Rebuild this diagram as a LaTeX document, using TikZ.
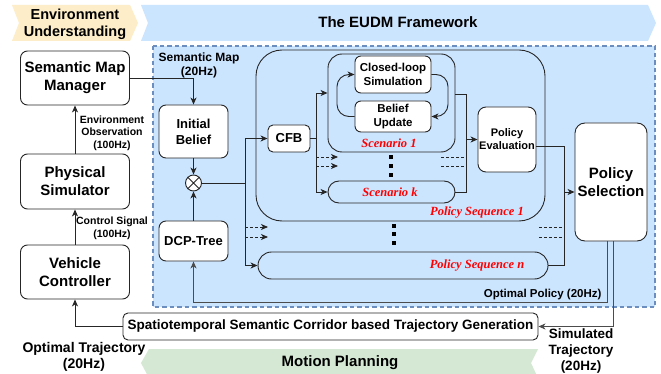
\documentclass[tikz,border=0pt]{standalone}
\usepackage{fontspec}
\setmainfont{Liberation Sans}
\newfontfamily\serifit{Liberation Serif}
\usetikzlibrary{arrows.meta}
\definecolor{bluefill}{HTML}{CCE5FF}
\definecolor{bluedash}{HTML}{6C8EBF}
\definecolor{yelfill}{HTML}{FDEDC8}
\definecolor{grnfill}{HTML}{D5E8D4}
\definecolor{lblred}{HTML}{FF0000}
\tikzset{
  box/.style={draw=black!85, fill=white, line width=0.9pt, rounded corners=7pt, align=center, inner sep=0pt, font=\bfseries\fontsize{15}{18}\selectfont},
  midbox/.style={box, font=\bfseries\fontsize{13}{16}\selectfont},
  smallbox/.style={box, rounded corners=6pt, font=\bfseries\fontsize{11.5}{13.5}\selectfont},
  seqbox/.style={draw=black!85, line width=0.9pt, inner sep=0pt},
  redlbl/.style={text=lblred, font=\serifit\bfseries\itshape\fontsize{12.5}{14}\selectfont},
  lbl/.style={align=center, font=\bfseries\fontsize{10.5}{12.5}\selectfont},
  ln/.style={draw=black!85, line width=0.9pt},
  arr/.style={ln, -{Stealth[length=7pt,width=6pt,inset=2pt]}},
  darr/.style={arr, dashed, dash pattern=on 3pt off 2pt},
  dln/.style={ln, dashed, dash pattern=on 3pt off 2pt},
  dotsq/.style={fill=black, minimum size=3.6pt, inner sep=0pt},
}
\begin{document}
\begin{tikzpicture}[x=1pt,y=-1pt]
\clip (0,0) rectangle (661,374);
\fill[white] (0,0) rectangle (661,374);

% banners
\fill[yelfill] (12,5) -- (130,5) -- (138,23) -- (130,41) -- (12,41) -- (19,23) -- cycle;
\node[align=center, font=\bfseries\fontsize{14.5}{17}\selectfont] (envu) at (75,24) {Environment\\Understanding};
\fill[bluefill] (141,5) -- (648,5) -- (656,23) -- (648,41) -- (141,41) -- (148,23) -- cycle;
\node[font=\bfseries\fontsize{15}{18}\selectfont] (eudm) at (398,22) {The EUDM Framework};
\fill[grnfill] (141,363) -- (149,349) -- (538,349) -- (531,363) -- (538,378) -- (149,378) -- cycle;
\node[font=\bfseries\fontsize{15}{18}\selectfont] (mp) at (340,363) {Motion Planning};

% dashed region
\filldraw[fill=bluefill, draw=bluedash, line width=1.3pt, dash pattern=on 4.5pt off 3pt] (153,46) rectangle (655,307);

% left column
\node[box, minimum width=109pt, minimum height=54pt] (smm) at (75,78) {Semantic Map\\Manager};
\node[box, minimum width=109pt, minimum height=55pt] (psim) at (75,181.5) {Physical\\Simulator};
\node[box, minimum width=109pt, minimum height=54pt] (vc) at (75,272) {Vehicle\\Controller};

% EUDM internals
\node[midbox, minimum width=69pt, minimum height=53pt] (ib) at (193.5,131.5) {Initial\\Belief};
\node[draw=black!85, fill=white, line width=0.9pt, circle, minimum size=16pt, inner sep=0pt] (ot) at (193.5,183) {};
\draw[ln] (ot.45) -- (ot.225) (ot.135) -- (ot.315);
\node[midbox, minimum width=69pt, minimum height=40pt] (dcp) at (193.5,241) {DCP-Tree};

\node[seqbox, rounded corners=26pt, minimum width=289pt, minimum height=171pt] (seq1) at (400.5,135.5) {};
\node[redlbl] (seq1l) at (477,213) {Policy Sequence 1};
\node[midbox, rounded corners=5pt, minimum width=42pt, minimum height=27pt] (cfb) at (289,138.5) {CFB};
\node[seqbox, rounded corners=14pt, minimum width=127pt, minimum height=98pt] (sc1) at (391.5,103) {};
\node[redlbl] (sc1l) at (389,143) {Scenario 1};
\node[smallbox, minimum width=76pt, minimum height=37pt] (cls) at (393,74.5) {Closed-loop\\Simulation};
\node[smallbox, minimum width=76pt, minimum height=31pt] (bu) at (393,116.5) {Belief\\Update};
\node[seqbox, rounded corners=11pt, minimum width=127pt, minimum height=22pt] (sck) at (391.5,192) {};
\node[redlbl] (sckl) at (390,192) {Scenario k};
\node[smallbox, rounded corners=8pt, minimum width=58pt, minimum height=65pt, font=\bfseries\fontsize{11}{13}\selectfont] (pe) at (507,139.5) {Policy\\Evaluation};
\node[seqbox, rounded corners=13.5pt, minimum width=290pt, minimum height=27pt] (seqn) at (403,265.5) {};
\node[redlbl] (seqnl) at (477,265.5) {Policy Sequence n};
\node[box, rounded corners=10pt, minimum width=72pt, minimum height=118pt] (psel) at (611,182) {Policy\\Selection};

\node[box, rounded corners=5pt, minimum width=415pt, minimum height=27pt, font=\bfseries\fontsize{13.5}{16}\selectfont] (sts) at (330.5,326.5) {Spatiotemporal Semantic Corridor based Trajectory Generation};

% dots
\foreach \yy in {157,166,175} \node[dotsq] at (391,\yy) {};
\foreach \yy in {226,234,243} \node[dotsq] at (394,\yy) {};

% left column connectors
\draw[arr] (psim.north) -- (smm.south);
\node[lbl] (eol) at (112,133) {Environment\\Observation\\(100Hz)};
\draw[arr] (vc.north) -- (psim.south);
\node[lbl] (csl) at (112,228.5) {Control Signal\\(100Hz)};
\draw[arr] (smm.east) -| (ib.north);
\node[align=center, font=\bfseries\fontsize{12}{14}\selectfont] (sml) at (199,65) {Semantic Map\\(20Hz)};

% belief combination
\draw[arr] (ib.south) -- (ot.north);
\draw[arr] (dcp.north) -- (ot.south);
\coordinate (b1) at (245,183);
\draw[ln] (ot.east) -- (b1);
\draw[arr] (b1) |- (cfb.west);
\draw[arr] (b1) |- (seqn.west);
\coordinate (d1a) at (245,227); \coordinate (d1b) at (268,227);
\coordinate (d2a) at (245,237); \coordinate (d2b) at (268,237);
\draw[darr] (d1a) -- (d1b);
\draw[darr] (d2a) -- (d2b);

% CFB to scenarios
\coordinate (b2) at (316,138.5);
\draw[ln] (cfb.east) -- (b2);
\draw[arr] (b2) |- ([yshift=10pt]sc1.west);
\draw[arr] (b2) |- (sck.west);
\coordinate (d3a) at (316,157); \coordinate (d3b) at (338,157);
\coordinate (d4a) at (316,166); \coordinate (d4b) at (338,166);
\draw[darr] (d3a) -- (d3b);
\draw[darr] (d4a) -- (d4b);

% loop
\coordinate (lr1) at (448,74.5); \coordinate (lr2) at (448,116.5);
\coordinate (ll1) at (337,116.5); \coordinate (ll2) at (337,74.5);
\draw[arr, rounded corners=12pt] (cls.east) -- (lr1) -- (lr2) -- (bu.east);
\draw[arr, rounded corners=12pt] (bu.west) -- (ll1) -- (ll2) -- (cls.west);

% scenarios to evaluation
\coordinate (b3) at (466,139.5);
\draw[ln] ([yshift=9pt]sc1.east) -| (b3);
\draw[ln] (sck.east) -| (b3);
\draw[arr] (b3) -- (pe.west);
\coordinate (d5a) at (441,157); \coordinate (d5b) at (466,157);
\coordinate (d6a) at (441,166); \coordinate (d6b) at (466,166);
\draw[dln] (d5a) -- (d5b);
\draw[dln] (d6a) -- (d6b);

% evaluation to selection
\coordinate (b4) at (564,146);
\coordinate (b5) at (564,192);
\draw[ln] ([yshift=-6.5pt]pe.east) -- (b4) -- (b5);
\draw[ln] (seqn.east) -| (b5);
\draw[arr] (b5) -- (b5-|psel.west);
\coordinate (d7a) at (539,227); \coordinate (d7b) at (564,227);
\coordinate (d8a) at (539,237); \coordinate (d8b) at (564,237);
\draw[dln] (d7a) -- (d7b);
\draw[dln] (d8a) -- (d8b);

% outputs
\coordinate (op1) at (607,302);
\draw[arr, draw=black!70] ([xshift=-4pt]psel.south) -- (op1) -| (dcp.south);
\node[anchor=east, font=\bfseries\fontsize{11.5}{13}\selectfont] (opl) at (605,295) {Optimal Policy (20Hz)};
\coordinate (st1) at (613,326.5);
\draw[arr, draw=black!70] ([xshift=2pt]psel.south) -- (st1) -- (sts.east);
\node[align=center, font=\bfseries\fontsize{13.5}{16}\selectfont] (stl) at (581,351) {Simulated\\Trajectory\\(20Hz)};
\draw[arr] (sts.west) -| (vc.south);
\node[align=center, font=\bfseries\fontsize{14}{16}\selectfont] (otl) at (84,357) {Optimal Trajectory\\(20Hz)};
\end{tikzpicture}
\end{document}
